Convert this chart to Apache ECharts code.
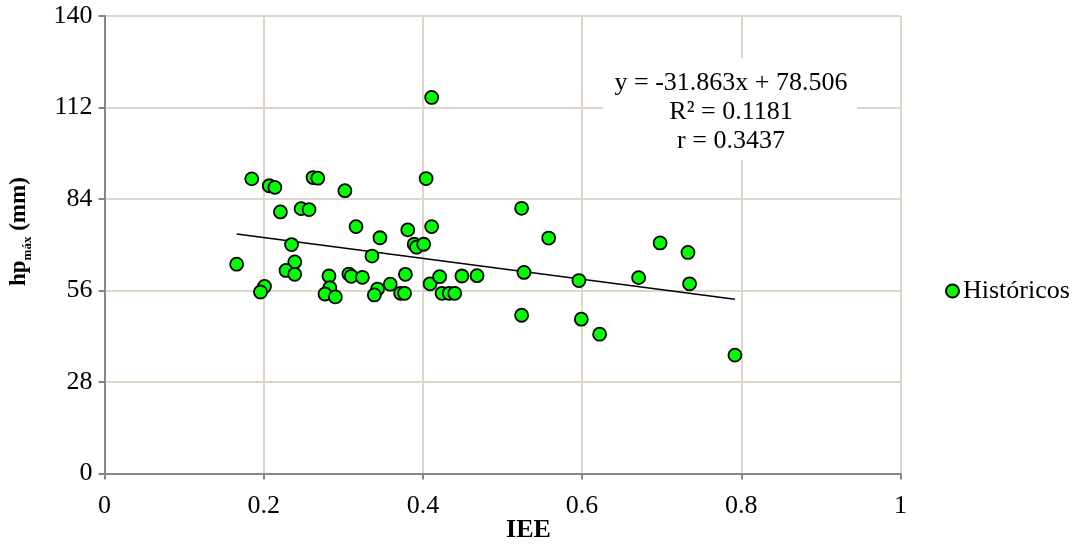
<!DOCTYPE html>
<html>
<head>
<meta charset="utf-8">
<script src="https://cdn.jsdelivr.net/npm/echarts@6/dist/echarts.min.js"></script>
<style>
html,body{margin:0;padding:0;background:#fff;}
#chart{width:1079px;height:558px;}
</style>
</head>
<body>
<div id="chart"></div>
<script>
// ---- data ----
const seriesName = 'Históricos';
const xTicks = ['0', '0.2', '0.4', '0.6', '0.8', '1'];
const yTicks = ['0', '28', '56', '84', '112', '140'];
const iee = [0.166,0.185,0.207,0.214,0.262,0.268,0.302,0.221,0.247,0.257,0.235,0.239,0.228,0.239,0.201,0.196,0.282,0.283,0.277,0.290,0.307,0.310,0.324,0.343,0.339,0.359,0.372,0.377,0.378,0.409,0.421,0.424,0.433,0.440,0.449,0.468,0.316,0.346,0.381,0.411,0.404,0.389,0.392,0.401,0.336,0.411,0.524,0.558,0.527,0.596,0.671,0.698,0.733,0.735,0.524,0.599,0.622,0.792];
const hp  = [64.0,90.1,88.0,87.5,90.5,90.3,86.5,80.0,81.0,80.7,70.0,64.7,62.1,60.9,57.2,55.5,60.4,56.8,54.9,54.0,61.0,60.3,60.0,56.4,54.6,57.9,55.1,55.1,60.9,58.0,60.2,55.1,55.1,55.1,60.4,60.5,75.5,72.1,74.5,75.5,90.2,70.1,69.2,70.1,66.5,115.0,81.1,72.0,61.5,59.0,59.9,70.5,67.6,58.0,48.4,47.2,42.6,36.2];
const slope = -31.863;
const intercept = 78.506;
const eqLines = ['y = -31.863x + 78.506', 'R² = 0.1181', 'r = 0.3437'];
const xTitle = 'IEE';

// ---- build ----
const pts = iee.map((x, i) => [x, hp[i]]);
const xMin = Math.min(...iee), xMax = Math.max(...iee);
const trend = [[xMin, slope * xMin + intercept], [xMax, slope * xMax + intercept]];

const font = '"Liberation Serif","Times New Roman",serif';
const chart = echarts.init(document.getElementById('chart'), null, {renderer: 'canvas'});
const gridColor = '#ded6c6';
const axisColor = '#868686';

chart.setOption({
  animation: false,
  textStyle: {fontFamily: font, color: '#000'},
  grid: {left: 103.5, right: 178.5, top: 15.7, bottom: 84.5, containLabel: false},
  legend: {
    data: [seriesName], left: 940, top: 273, icon: 'circle',
    itemWidth: 13, itemHeight: 13, itemGap: 4,
    textStyle: {fontFamily: font, fontSize: 26, color: '#000', padding: [0,0,0,-1]}
  },
  xAxis: {
    type: 'value', min: 0, max: 1, interval: 0.2,
    name: xTitle, nameLocation: 'middle', nameGap: 44, nameMoveOverlap: false,
    nameTextStyle: {fontFamily: font, fontSize: 26, fontWeight: 'bold', color: '#000', padding: [0,0,0,52]},
    axisLine: {show: true, onZero: false, lineStyle: {color: axisColor, width: 2}},
    axisTick: {show: true, length: 6, lineStyle: {color: axisColor, width: 2}},
    axisLabel: {fontFamily: font, fontSize: 26, color: '#000', margin: 20,
      formatter: v => xTicks[Math.round(v / 0.2)]},
    splitLine: {show: true, lineStyle: {color: gridColor, width: 2}}
  },
  yAxis: {
    type: 'value', min: 0, max: 140, interval: 28,
    name: '{b|hp}{s|máx}{b| (mm)}', nameLocation: 'middle', nameGap: 70, nameRotate: 90, nameMoveOverlap: false,
    nameTextStyle: {
      fontFamily: font, color: '#000', padding: [0,0,0,26],
      rich: {
        b: {fontFamily: font, fontSize: 23, fontWeight: 'bold', color: '#000', lineHeight: 30, verticalAlign: 'middle'},
        s: {fontFamily: font, fontSize: 13, fontWeight: 'bold', color: '#000', lineHeight: 30, verticalAlign: 'bottom'}
      }
    },
    axisLine: {show: true, onZero: false, lineStyle: {color: axisColor, width: 2}},
    axisTick: {show: true, length: 6, lineStyle: {color: axisColor, width: 2}},
    axisLabel: {fontFamily: font, fontSize: 26, color: '#000', margin: 12,
      formatter: v => yTicks[Math.round(v / 28)]},
    splitLine: {show: true, lineStyle: {color: gridColor, width: 2}}
  },
  graphic: [
    {type: 'rect', shape: {x: 603, y: 58, width: 254, height: 102}, style: {fill: '#fff'}, z: 50},
    {type: 'text', x: 731, y: 83, z: 51, style: {text: eqLines[0], fontFamily: font, fontSize: 26, fill: '#000', align: 'center', verticalAlign: 'middle'}},
    {type: 'text', x: 731, y: 112, z: 51, style: {text: eqLines[1], fontFamily: font, fontSize: 26, fill: '#000', align: 'center', verticalAlign: 'middle'}},
    {type: 'text', x: 731, y: 141, z: 51, style: {text: eqLines[2], fontFamily: font, fontSize: 26, fill: '#000', align: 'center', verticalAlign: 'middle'}}
  ],
  series: [
    {
      name: 'trend', type: 'line', data: trend, symbol: 'none', z: 2,
      lineStyle: {color: '#000', width: 1.5}, silent: true
    },
    {
      name: seriesName, type: 'scatter', data: pts, symbol: 'circle', symbolSize: 13, z: 3,
      itemStyle: {color: '#00ff00', borderColor: '#000', borderWidth: 1.8, opacity: 1}
    }
  ]
});
</script>
</body>
</html>
